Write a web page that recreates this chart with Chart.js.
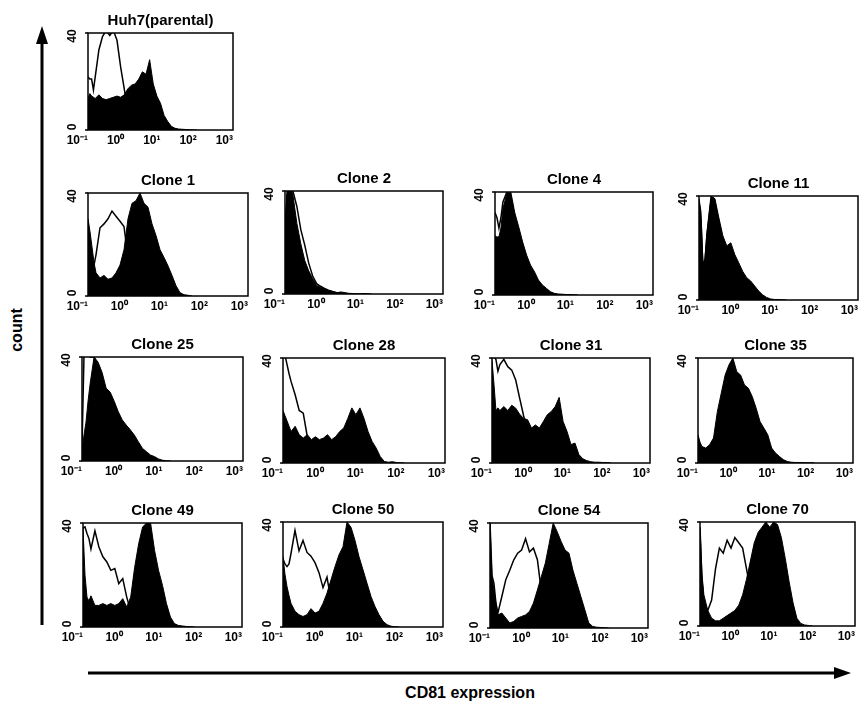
<!DOCTYPE html>
<html><head><meta charset="utf-8">
<script src="https://cdn.jsdelivr.net/npm/chart.js@4.4.0/dist/chart.umd.min.js"></script>
<style>
html,body{margin:0;padding:0;background:#fff;}
#wrap{position:relative;width:864px;height:705px;overflow:hidden;font-family:"Liberation Sans",Arial,sans-serif;background:#fff;}
.lbl{position:absolute;font-weight:bold;color:#000;white-space:nowrap;}
</style></head><body>
<div id="wrap">
<svg width="864" height="705" style="position:absolute;left:0;top:0">
  <line x1="42" y1="625" x2="42" y2="40" stroke="#000" stroke-width="3"/>
  <polygon points="42,26 36,44 48,44" fill="#000"/>
  <line x1="88" y1="673" x2="836" y2="673" stroke="#000" stroke-width="3"/>
  <polygon points="851,673 834,667 834,679" fill="#000"/>
</svg>
<div class="lbl" style="left:17px;top:330px;font-size:16px;transform:translate(-50%,-50%) rotate(-90deg);">count</div>
<div class="lbl" style="left:470px;top:693px;font-size:16px;transform:translate(-50%,-50%);">CD81 expression</div>
</div>
<script>
// log10 fluorescence channel (x) shared by all histograms
const expo = [-1,-0.95,-0.9,-0.85,-0.8,-0.7,-0.6,-0.5,-0.4,-0.3,-0.2,-0.1,0,0.1,0.2,0.3,0.4,0.5,0.6,0.7,0.8,0.9,1.0,1.1,1.2,1.3,1.4,1.5,1.6,1.7,1.8,1.9,2.0];
const tickExps = [-1,0,1,2,3];
const tickLabels = ['10\u207B\u00B9','10\u2070','10\u00B9','10\u00B2','10\u00B3'];
const yTicks = [0,40];

const huh7Stained = [13,15,14,13.5,13,14.5,13,12.5,13,13.5,14,13.5,14.5,17,18.5,19,21,24,23,29,19,14,11,6,3.5,1.5,0.7,0.4,0.3,0.2,0.1,0,0];
const huh7Control = [22,21,21,16.5,22,33,38.5,41,39,41,37,26,17,8,4,2,1,0.5,0];
const clone1Stained = [30,25,19,13,9,7,8,6.5,7,9,12,18,30,36,37,40,36,34.5,28,23.5,18,15,11.7,8,4,1.3,0.5,0.3,0];
const clone1Control = [28,18,10,12,16,26.5,28,30,33,31,29,27,15,5,2,1,0.5,0];
const clone2Stained = [27,40,40,41,38.5,27.5,19.5,13,9,6,3.3,2.6,2,1.3,1,0.4,0.8,0.6,0.3,0.2,0.1,0.1,0.2,0.1,0];
const clone2Control = [20,38,41,40,40,34,25,19,12,7,4,3,2.2,1.5,1,0.6,0.3,0.2,0];
const clone4Stained = [23,22.5,22.6,26,33.5,39.4,40,32,26.5,20.6,15.5,11.6,9,5.8,3.9,2.6,1.3,0.6,0.4,0.3,0.2,0.2,0.1,0];
const clone4Control = [32,30,26,30,36,40,38,30,24,19,14,10,7,5,3,2,1,0.5,0];
const clone11Stained = [39,34,14,16,26,40,39,31.6,24.7,20.8,22,17.5,14.3,11,8.6,7.3,5.4,3.5,2,1,0.4,0.2,0.2,0.1,0];
const clone11Control = [38,30,12,15,25,38,37,30,23,18,14,11,9,7,5,3.5,2.5,1.5,1,0.5,0];
const clone25Stained = [4,10,15,23,29.5,40,38,34,28,26.5,23,19,15.8,13.8,12,10,7.4,4.9,3.6,2.3,1.7,0.8,0.3,0.1,0];
const clone25Control = [5,41,41,40.5,40,40,36,31,26,22,18,15,12,9,7,5,3.5,2,1,0.5,0];
const clone28Stained = [20,18,16,14,12,14,10.8,9.5,10.8,8.9,10,8.9,9.5,10.8,8.9,10,12,13.3,17,21,18.4,21,17,12,8.2,5.7,2.5,0.6,0.3,0.5,0.2,0.1,0];
const clone28Control = [40,41,37.5,34,31,26,20,19,10,7,5,4,3,2,1.5,1,0.5,0];
const clone31Stained = [39,30,20,21,20,21.5,20,22,20.9,18.6,17,16.5,13.3,14.5,13.3,15.8,18.4,19.6,21.5,25,15.8,12,7,7.6,3.2,1.6,0.9,0.5,0.3,0.3,0.2,0.2,0.1];
const clone31Control = [40,41,39.4,35,37.5,39.5,36.7,35.4,31.6,24.7,18,12,8,5,3,2,1,0.5,0];
const clone35Stained = [10.8,8,6.3,6,5.7,7,9.5,19.6,26.6,33.5,37.4,40,34.8,33.5,29.7,28.5,25.3,20.9,15.8,13.3,10.8,5.7,3.8,2.5,1.3,0.6,0.3,0.2,0.2,0.2,0.1,0.1,0.1];
const clone35Control = [9,7,5,5,5,6,8,14,20,26,30,32,30,27,23,20,16,12,9,6,4,2,1,0.5,0];
const clone49Stained = [38,20,11.5,10,12,8.3,8.3,9,8.3,9,8.3,9,10.9,7.7,11.5,23,32,38.5,40,40,29.5,21.8,16,9,3.8,1.3,0.6,0.4,0.2,0.1,0];
const clone49Control = [38,38.5,36,34,30,37,30.8,27,25,21.8,22.5,16.7,18.6,11.5,6,3,1.5,0.8,0.3,0];
const clone50Stained = [26.8,20,15.4,12,9,6,4.7,4,4.7,7,5.3,6,9,12.9,18,23,27.5,30.6,40,38,33,26.8,21.8,16.7,11.6,7.8,4.7,2.2,0.9,0.3,0.1,0];
const clone50Control = [26,24,23,24,28,36.8,29,33,28.4,27,24.5,20.7,15,19,10,6,3,1.5,0.5,0];
const clone54Stained = [40,19.6,14.5,9.5,5,5.7,3.8,1.9,2.5,3.8,4.4,5,6.3,9.5,14.5,19.6,24.7,32.3,40,36.7,33,29.7,28.5,22,17,12,7,1.9,0.6,0.3,0.2,0.1,0];
const clone54Control = [40,20,17,9.5,5.7,12,18.4,22,25.9,28.5,29.7,34,29,30.4,26,14,8,4,2,1,0.5,0];
const clone70Stained = [38,20,12,9,6,3,2,2,3,4,5,6,8,12,18,25,32,36,38,40,38,40,39,34,26,17,9,3,1,0.4,0.2,0];
const clone70Control = [38,18,9,7,6,10,22,30,28,33,30,34,32,30,22,14,8,4,2,1,0];

const panelTitles = ['Huh7(parental)','Clone 1','Clone 2','Clone 4','Clone 11','Clone 25','Clone 28','Clone 31','Clone 35','Clone 49','Clone 50','Clone 54','Clone 70'];
const stainedSeries = [huh7Stained,clone1Stained,clone2Stained,clone4Stained,clone11Stained,clone25Stained,clone28Stained,clone31Stained,clone35Stained,clone49Stained,clone50Stained,clone54Stained,clone70Stained];
const controlSeries = [huh7Control,clone1Control,clone2Control,clone4Control,clone11Control,clone25Control,clone28Control,clone31Control,clone35Control,clone49Control,clone50Control,clone54Control,clone70Control];

// plot boxes [left,right,top,bottom] in page pixels
const boxes = [
  [88,233,33,130],
  [88,248,193,296],[285,443,191,294],[495,653,192,295],[699,858,196,300],
  [82,243,357,461],[283,445,358,463],[492,650,358,463],[698,853,358,463],
  [83,242,523,627],[283,443,522,627],[490,648,523,628],[700,855,522,626]
];

const FONT = '"Liberation Sans", Arial, sans-serif';
const PAD_L = 30, PAD_R = 10, TITLE_H = 20, XAX_H = 22;

const frame = {
  id: 'frame',
  afterDraw(chart) {
    const {ctx, chartArea: a} = chart;
    const y = chart.scales.y;
    ctx.save();
    ctx.strokeStyle = '#000';
    ctx.lineWidth = 1.5;
    ctx.strokeRect(a.left, a.top, a.right - a.left, a.bottom - a.top);
    ctx.fillStyle = '#000';
    ctx.font = 'bold 12px ' + FONT;
    ctx.textAlign = 'center';
    ctx.textBaseline = 'middle';
    yTicks.forEach(v => {
      const py = y.getPixelForValue(v);
      ctx.beginPath(); ctx.moveTo(a.left - 3, py); ctx.lineTo(a.left, py); ctx.stroke();
      ctx.save();
      ctx.translate(a.left - 15, py + (v === yTicks[1] ? 3 : -3));
      ctx.rotate(-Math.PI / 2);
      ctx.fillText(String(v), 0, 0);
      ctx.restore();
    });
    ctx.restore();
  }
};

const wrap = document.getElementById('wrap');
panelTitles.forEach((title, k) => {
  const [L, R, T, B] = boxes[k];
  const w = R - L + PAD_L + PAD_R, h = B - T + TITLE_H + XAX_H;
  const cv = document.createElement('canvas');
  cv.width = w; cv.height = h;
  cv.style.cssText = `position:absolute;left:${L - PAD_L}px;top:${T - TITLE_H}px;width:${w}px;height:${h}px;`;
  wrap.appendChild(cv);
  new Chart(cv, {
    type: 'line',
    data: {
      datasets: [
        {label: 'CD81', data: stainedSeries[k].map((v, i) => ({x: expo[i], y: v})),
         fill: 'origin', backgroundColor: '#000', borderColor: '#000', borderWidth: 1, pointRadius: 0, tension: 0},
        {label: 'control', data: controlSeries[k].map((v, i) => ({x: expo[i], y: v})),
         fill: false, borderColor: '#000', borderWidth: 1.5, pointRadius: 0, tension: 0}
      ]
    },
    options: {
      responsive: false, animation: false, devicePixelRatio: 1,
      layout: {padding: {left: PAD_L, right: PAD_R, top: 0, bottom: 0}},
      plugins: {
        legend: {display: false}, tooltip: {enabled: false},
        title: {display: true, text: title, color: '#000',
                font: {family: FONT, size: 15, weight: 'bold', lineHeight: 1},
                padding: {top: 0, bottom: TITLE_H - 15}}
      },
      scales: {
        x: {type: 'linear', min: -1, max: 3,
            afterFit: s => { s.height = XAX_H; },
            grid: {display: false, drawTicks: false}, border: {display: false},
            ticks: {stepSize: 1, align: 'end', padding: 3, color: '#000', autoSkip: false,
                    maxRotation: 0, minRotation: 0,
                    font: {family: FONT, size: 12, weight: 'bold'},
                    callback: v => tickLabels[tickExps.indexOf(v)]}},
        y: {display: false, min: 0, max: 40}
      }
    },
    plugins: [frame]
  });
});
</script>
</body></html>
